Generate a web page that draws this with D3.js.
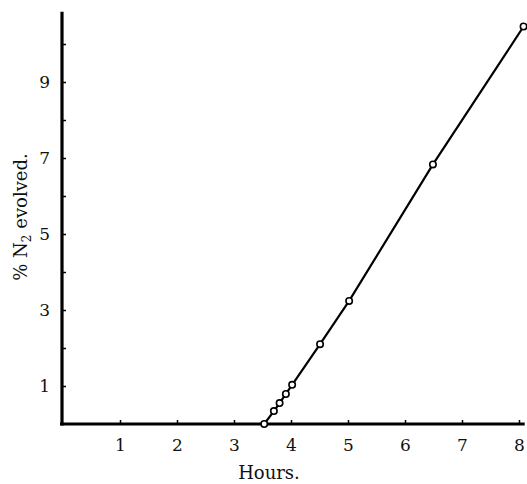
<!DOCTYPE html>
<html>
<head>
<meta charset="utf-8">
<script src="https://cdn.jsdelivr.net/npm/d3@7"></script>
<style>
  body { margin: 0; background: #fff; }
  svg text { font-family: "DejaVu Serif", "Liberation Serif", serif; fill: #111; }
</style>
</head>
<body>
<div id="chart"></div>
<script>
// N2 evolved vs time
var hours = [3.53, 3.7, 3.8, 3.91, 4.02, 4.51, 5.02, 6.49, 8.08];
var n2Evolved = [0, 0.34, 0.55, 0.79, 1.03, 2.1, 3.24, 6.83, 10.46];

var xTicks = [1, 2, 3, 4, 5, 6, 7, 8];
var yTicks = [1, 2, 3, 4, 5, 6, 7, 8, 9, 10];
var yTickLabels = ["1", "", "3", "", "5", "", "7", "", "9", ""];

var width = 527, height = 484;

var x = d3.scaleLinear().domain([0, 8]).range([63, 519]);
var y = d3.scaleLinear().domain([0, 10]).range([424, 44]);

var svg = d3.select("#chart").append("svg")
    .attr("width", width)
    .attr("height", height);

// axis lines (extend past last tick like the original)
svg.append("line")
    .attr("x1", x(0) - 1).attr("x2", x(0) - 1)
    .attr("y1", y(10.85)).attr("y2", y(0) + 1.5)
    .style("stroke", "#000").style("stroke-width", 3.2);

svg.append("line")
    .attr("x1", x(0) - 3).attr("x2", x(8.1))
    .attr("y1", y(0)).attr("y2", y(0))
    .style("stroke", "#000").style("stroke-width", 3.2);

// x axis ticks and labels
var xAxis = d3.axisBottom(x)
    .tickValues(xTicks)
    .tickSize(-4)
    .tickPadding(15)
    .tickFormat(d3.format("d"));

var gx = svg.append("g")
    .attr("transform", "translate(0," + y(0) + ")")
    .call(xAxis);
gx.select(".domain").remove();
gx.selectAll("line").style("stroke", "#000").style("stroke-width", 1.5);
gx.selectAll("text")
    .style("font-family", "DejaVu Serif")
    .style("font-size", "17px")
    .style("fill", "#111");

// y axis ticks and labels
var yAxis = d3.axisLeft(y)
    .tickValues(yTicks)
    .tickSize(-4)
    .tickPadding(12)
    .tickFormat(function(d, i) { return yTickLabels[i]; });

var gy = svg.append("g")
    .attr("transform", "translate(" + (x(0) - 1) + ",0)")
    .call(yAxis);
gy.select(".domain").remove();
gy.selectAll("line").style("stroke", "#000").style("stroke-width", 1.5);
gy.selectAll("text")
    .style("font-family", "DejaVu Serif")
    .style("font-size", "17px")
    .style("fill", "#111");

// axis titles
svg.append("text")
    .attr("x", 269)
    .attr("y", 479)
    .attr("text-anchor", "middle")
    .style("font-size", "18px")
    .text("Hours.");

var yTitle = svg.append("text")
    .attr("transform", "translate(27,217) rotate(-90)")
    .attr("text-anchor", "middle")
    .style("font-size", "18px");
yTitle.append("tspan").text("% N");
yTitle.append("tspan").attr("dy", 4).style("font-size", "12px").text("2");
yTitle.append("tspan").attr("dy", -4).text(" evolved.");

// data line
var points = hours.map(function(h, i) { return [h, n2Evolved[i]]; });

var line = d3.line()
    .x(function(d) { return x(d[0]); })
    .y(function(d) { return y(d[1]); });

svg.append("path")
    .datum(points)
    .attr("d", line)
    .style("fill", "none")
    .style("stroke", "#000")
    .style("stroke-width", 2.2);

svg.selectAll("circle.pt")
    .data(points)
  .enter().append("circle")
    .attr("class", "pt")
    .attr("cx", function(d) { return x(d[0]); })
    .attr("cy", function(d) { return y(d[1]); })
    .attr("r", 3.2)
    .style("fill", "#fff")
    .style("stroke", "#000")
    .style("stroke-width", 1.6);
</script>
</body>
</html>
